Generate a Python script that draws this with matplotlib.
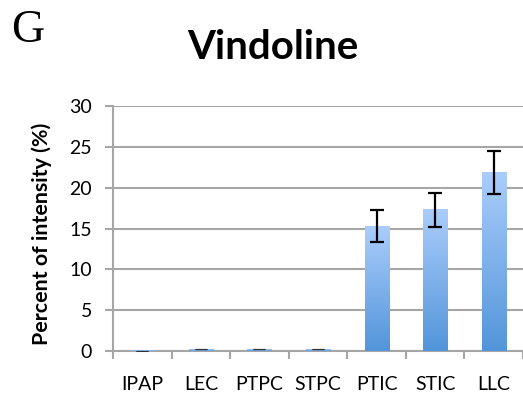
import numpy as np
import matplotlib.pyplot as plt
from matplotlib.colors import LinearSegmentedColormap

# Vindoline distribution across tissue types
tissues = ["IPAP", "LEC", "PTPC", "STPC", "PTIC", "STIC", "LLC"]
percent = [0.05, 0.2, 0.2, 0.2, 15.3, 17.3, 21.9]
err = [0.0, 0.0, 0.0, 0.0, 2.0, 2.1, 2.65]

grid_col = "#a6a6a6"
fig = plt.figure(figsize=(5.23, 3.99), dpi=100)
ax = fig.add_axes([0.216, 0.1203, 0.784, 0.6140])

x = np.arange(len(tissues))
bars = ax.bar(x, percent, width=0.41, color="none", zorder=3)

# vertical gradient fill for each bar
cmap = LinearSegmentedColormap.from_list("blu", ["#5295da", "#abcdfb"])
grad = np.linspace(0, 1, 256).reshape(-1, 1)
for b in bars:
    x0, w, h = b.get_x(), b.get_width(), b.get_height()
    ax.imshow(grad, cmap=cmap, origin="lower", aspect="auto",
              extent=(x0, x0 + w, 0, h), zorder=3)

ax.errorbar(x[4:], percent[4:], yerr=err[4:], fmt="none", ecolor="black",
            elinewidth=1.6, capsize=4.8, capthick=1.6, zorder=4)
# tiny bars only show a thin cap line
ax.errorbar(x[:4], percent[:4], yerr=err[:4], fmt="none", ecolor="#333333",
            elinewidth=0.8, capsize=4.0, capthick=0.8, zorder=4)

ax.set_xlim(-0.5, len(tissues) - 0.5)
ax.set_ylim(0, 30)
ax.set_yticks(range(0, 31, 5))
ax.set_xticks(x)
ax.set_xticklabels(tissues)
ax.set_xticks(np.arange(-0.5, len(tissues) - 0.4, 1), minor=True)
ax.tick_params(axis="x", which="major", length=0, pad=18, labelsize=14)
ax.tick_params(axis="x", which="minor", length=6, width=1.5, color=grid_col)
ax.tick_params(axis="y", length=6, width=1.5, color=grid_col, labelsize=14, pad=9)
for lab in ax.get_xticklabels() + ax.get_yticklabels():
    lab.set_family("Lato")

ax.yaxis.grid(True, color=grid_col, linewidth=1.5, zorder=0)
ax.set_axisbelow(True)
for s in ["top", "right"]:
    ax.spines[s].set_visible(False)
for s in ["left", "bottom"]:
    ax.spines[s].set_color(grid_col)
    ax.spines[s].set_linewidth(1.5)

ax.set_ylabel("Percent of intensity (%)", fontsize=15.4, fontweight="bold",
              family="Lato", labelpad=6)
ax.yaxis.set_label_coords(-0.148, 0.48)

fig.text(0.522, 0.882, "Vindoline", ha="center", va="center", fontsize=29,
         fontweight="bold", family="Lato")
fig.text(0.022, 0.922, "G", ha="left", va="center", fontsize=33,
         family="Liberation Serif")

fig.savefig("out.png", dpi=100)
